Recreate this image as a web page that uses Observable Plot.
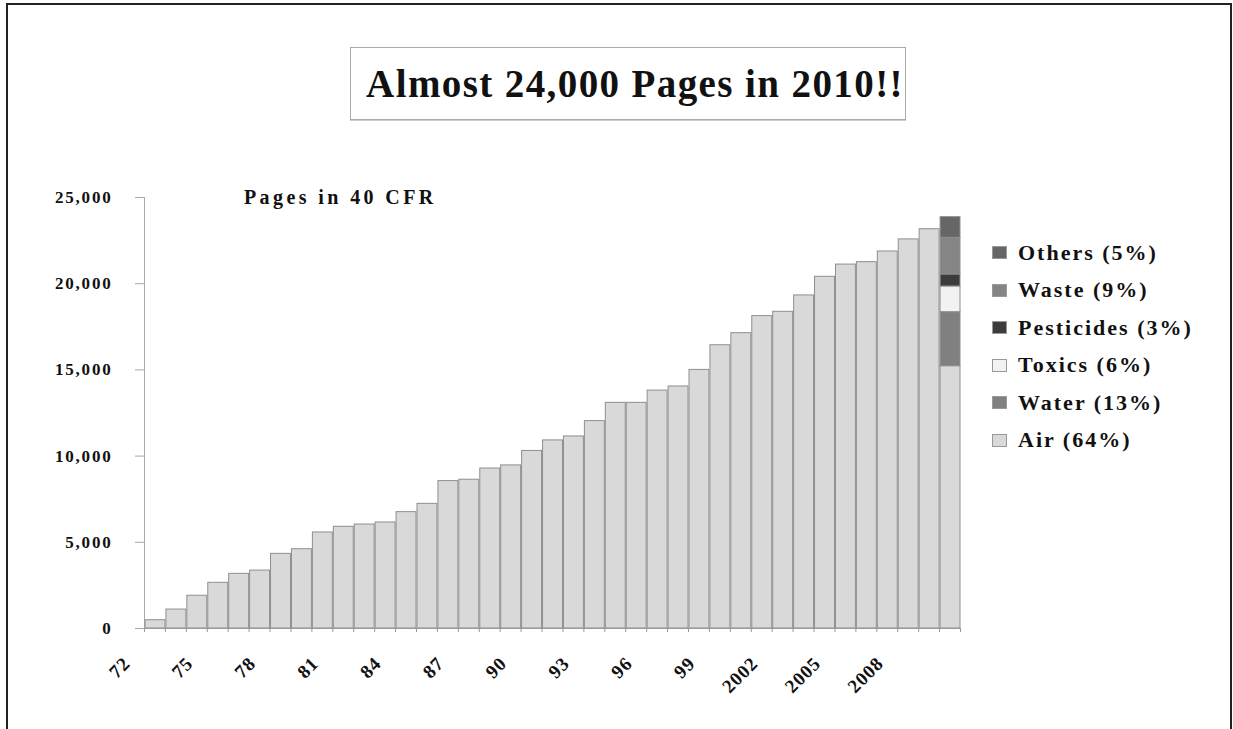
<!DOCTYPE html>
<html><head><meta charset="utf-8">
<script src="https://cdn.jsdelivr.net/npm/d3@7"></script>
<script src="https://cdn.jsdelivr.net/npm/@observablehq/plot@0.6"></script>
<style>
html,body{margin:0;padding:0;background:#fff;}
#wrap{position:relative;width:1233px;height:729px;overflow:hidden;font-family:"Liberation Serif","Times New Roman",serif;color:#111;}
#frame{position:absolute;left:6px;top:3px;width:1226px;height:740px;border:2px solid #222;border-bottom:none;box-sizing:border-box;}
#title{position:absolute;left:350px;top:47px;width:556px;height:73px;border:1px solid #aaa;box-shadow:0 1px 0 #ccc;box-sizing:border-box;display:flex;align-items:center;justify-content:center;padding-left:14px;font-weight:bold;font-size:39px;letter-spacing:1.4px;}
#sub{position:absolute;left:244px;top:186px;font-weight:bold;font-size:20px;letter-spacing:3.4px;}
#legend{position:absolute;left:992px;top:234px;}
.row{display:flex;align-items:center;height:37.5px;font-weight:bold;font-size:22px;letter-spacing:2px;}
.sw{width:15px;height:13px;border:1px solid #999;margin-right:11px;box-sizing:border-box;}
#chart{position:absolute;left:0;top:0;}
#chart g[aria-label="y-axis tick label"] text{letter-spacing:1.8px;}
#chart g[aria-label="x-axis tick label"] text{letter-spacing:0.8px;}
</style></head>
<body><div id="wrap">
<div id="chart"></div>
<div id="frame"></div>
<div id="title">Almost 24,000 Pages in 2010!!</div>
<div id="sub">Pages in 40 CFR</div>
<div id="legend"></div>
</div>
<script>
const years = [1972,1973,1974,1975,1976,1977,1978,1979,1980,1981,1982,1983,1984,1985,1986,1987,1988,1989,1990,1991,1992,1993,1994,1995,1996,1997,1998,1999,2000,2001,2002,2003,2004,2005,2006,2007,2008,2009,2010];
// total pages for 1972-2009
const totals = [480,1100,1900,2650,3170,3360,4330,4600,5570,5900,6030,6150,6750,7230,8550,8630,9280,9460,10300,10910,11140,12030,13090,13090,13800,14040,15000,16430,17130,18120,18370,19320,20400,21110,21250,21870,22570,23160];
// 2010 breakdown, bottom to top
const categories = ["Air","Water","Toxics","Pesticides","Waste","Others"];
const values2010 = [15215,3135,1490,695,2125,1200];
const shares = [64,13,6,3,9,5];
const colors = {Total:"#d9d9d9", Air:"#d9d9d9", Water:"#808080", Toxics:"#f2f2f2", Pesticides:"#3c3c3c", Waste:"#858585", Others:"#666666"};
const yTicks = [0,5000,10000,15000,20000,25000];
const labelYears = [1972,1975,1978,1981,1984,1987,1990,1993,1996,1999,2002,2005,2008];
const legendOrder = ["Others","Waste","Pesticides","Toxics","Water","Air"];

const rows = [];
years.forEach((y,i)=>{ if (i < totals.length) rows.push({year:y, cat:"Total", value:totals[i]}); });
categories.forEach((c,i)=>rows.push({year:2010, cat:c, value:values2010[i]}));

const colorDomain = ["Total", ...categories];
const chart = Plot.plot({
  width:1233, height:729,
  marginLeft:144, marginRight:273, marginTop:197, marginBottom:101,
  style:{fontFamily:"'Liberation Serif','Times New Roman',serif", fontWeight:"bold", fontSize:"16px", color:"#111", background:"transparent"},
  x:{type:"linear", domain:[years[0], years[years.length-1]+1], axis:null, label:null},
  y:{domain:[0,25000], axis:null, label:null},
  color:{domain:colorDomain, range:colorDomain.map(c=>colors[c])},
  marks:[
    Plot.frame({anchor:"left", stroke:"#a8a8a8"}),
    Plot.rectY(rows, {x:"year", interval:1, y:"value", fill:"cat", stroke:"#8f8f8f", strokeWidth:1}),
    Plot.ruleY([0], {stroke:"#999", insetLeft:-9}),
    Plot.axisX({ticks:[...years, years[years.length-1]+1], tickSize:4, tickFormat:()=>"", stroke:"#999", label:null}),
    Plot.axisX({ticks:labelYears.map(y=>y+0.5), tickSize:0, tickPadding:22, tickRotate:-45, dx:-28, dy:10, label:null,
      tickFormat:v=>{const y=Math.floor(v); return y<2000 ? String(y).slice(2) : String(y);},
      fontSize:19, fill:"#111"}),
    Plot.axisY({ticks:yTicks, tickSize:9, tickPadding:23, tickFormat:d3.format(","), stroke:"#a8a8a8", fill:"#111", fontSize:17, label:null})
  ]
});
document.getElementById("chart").appendChild(chart);

const lg = document.getElementById("legend");
legendOrder.forEach(c=>{
  const i = categories.indexOf(c);
  const r = document.createElement("div"); r.className="row";
  const s = document.createElement("div"); s.className="sw"; s.style.background = colors[c];
  const t = document.createElement("span"); t.textContent = `${c} (${shares[i]}%)`;
  r.appendChild(s); r.appendChild(t); lg.appendChild(r);
});
</script>
</body></html>
